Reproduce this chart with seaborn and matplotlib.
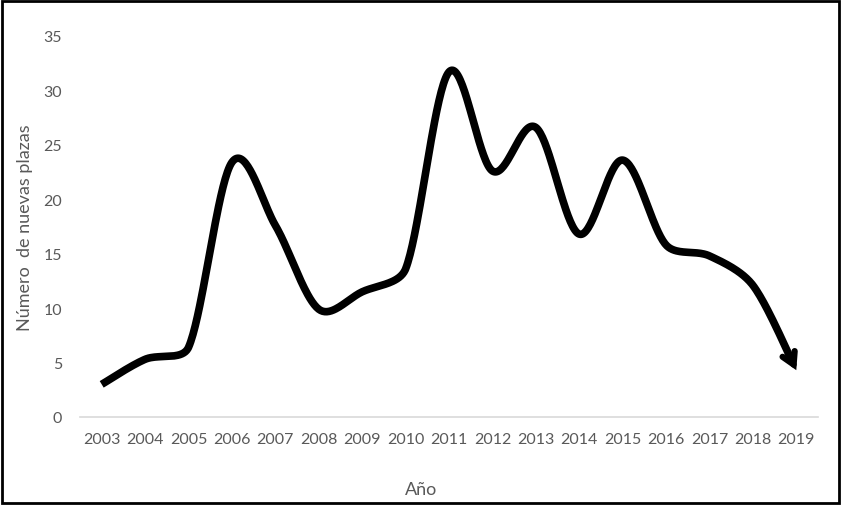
import matplotlib
matplotlib.use("Agg")
import matplotlib.pyplot as plt
import seaborn as sns
import numpy as np
import pandas as pd
from matplotlib.patches import Rectangle

years = [2003, 2004, 2005, 2006, 2007, 2008, 2009, 2010, 2011,
         2012, 2013, 2014, 2015, 2016, 2017, 2018, 2019]
plazas = [3.0, 5.3, 6.4, 23.4, 17.6, 9.9, 11.5, 13.6, 31.7,
          22.6, 26.6, 16.8, 23.6, 15.8, 14.8, 12.1, 4.3]


def smooth_curve(x, y, steps=40, xscale=4.0):
    # Excel-like smoothed line: Bezier with Catmull-Rom control points,
    # control arms limited to a third of the neighbouring segment length
    pts = np.column_stack([np.asarray(x, float) * xscale, np.asarray(y, float)])
    n = len(pts)

    def arm(a, b, tan):
        lim = np.linalg.norm(b - a) / 3.0
        ln = np.linalg.norm(tan)
        return tan * min(1.0, lim / ln) if ln > 0 else tan

    out = [pts[0]]
    for i in range(n - 1):
        p0 = pts[max(i - 1, 0)]
        p1 = pts[i]
        p2 = pts[i + 1]
        p3 = pts[min(i + 2, n - 1)]
        c1 = p1 + arm(p1, p2, (p2 - p0) / 6.0)
        c2 = p2 - arm(p1, p2, (p3 - p1) / 6.0)
        t = np.linspace(0, 1, steps)[1:, None]
        seg = ((1 - t) ** 3) * p1 + 3 * ((1 - t) ** 2) * t * c1 \
            + 3 * (1 - t) * t ** 2 * c2 + t ** 3 * p2
        out.extend(seg)
    out = np.array(out)
    return out[:, 0] / xscale, out[:, 1]


sns.set_theme(style="white")
plt.rcParams['font.family'] = ['Lato', 'DejaVu Sans']

fig = plt.figure(figsize=(8.41, 5.06), dpi=100)
ax = fig.add_axes([80 / 841, 1 - 418 / 506, 738 / 841, 381 / 506])

pos = np.arange(len(years))
sx, sy = smooth_curve(pos, plazas)
df = pd.DataFrame({'x': sx[:-8], 'y': sy[:-8]})
sns.lineplot(data=df, x='x', y='y', ax=ax, color='black', linewidth=5.5,
             sort=False, solid_capstyle='butt')

# arrow head at the end of the line
ax.annotate('', xy=(sx[-1], sy[-1]), xytext=(sx[-10], sy[-10]),
            arrowprops=dict(arrowstyle='->,head_length=0.7,head_width=0.4',
                            color='black', lw=4.5, shrinkA=0, shrinkB=0,
                            joinstyle='miter'))

ax.set_xlim(-0.5, len(years) - 0.5)
ax.set_ylim(0, 35)
ax.set_xticks(pos)
ax.set_xticklabels([str(y) for y in years])
ax.set_yticks(range(0, 36, 5))

for s in ['top', 'right', 'left']:
    ax.spines[s].set_visible(False)
ax.spines['bottom'].set_color('#d9d9d9')
ax.spines['bottom'].set_linewidth(1.2)

ax.tick_params(axis='x', length=0, pad=11, labelsize=11.5, labelcolor='#595959')
ax.tick_params(axis='y', length=0, pad=13, labelsize=11.5, labelcolor='#595959')

ax.set_xlabel('Año', fontsize=13, color='#595959')
ax.set_ylabel('Número  de nuevas plazas', fontsize=13, color='#595959')
ax.xaxis.set_label_coords(0.462, -0.168)
ax.yaxis.set_label_coords(-0.064, 0.5)

fig.patches.append(Rectangle((0.002, 0.003), 0.996, 0.994, transform=fig.transFigure,
                             fill=False, edgecolor='black', linewidth=2))

fig.savefig('out.png', dpi=100)
